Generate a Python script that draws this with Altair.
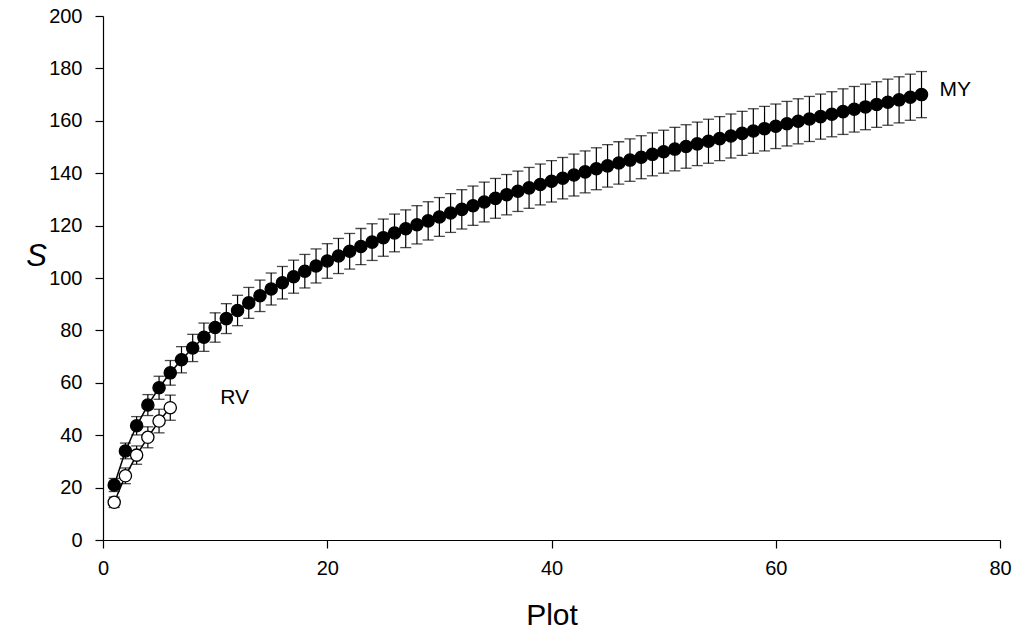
import altair as alt
import pandas as pd

# ---- data ----
my_plot = list(range(1, 74))
my_s = [21.0, 34.0, 43.6, 51.5, 58.1, 63.8, 68.8, 73.3, 77.4, 81.1,
        84.5, 87.6, 90.5, 93.2, 95.8, 98.2, 100.5, 102.6, 104.6, 106.5,
        108.4, 110.2, 112.0, 113.7, 115.4, 117.2, 118.8, 120.3, 121.8, 123.3,
        124.8, 126.2, 127.6, 129.0, 130.4, 131.8, 133.1, 134.4, 135.7, 136.9,
        138.1, 139.3, 140.5, 141.7, 142.8, 143.9, 145.0, 146.1, 147.2, 148.2,
        149.2, 150.2, 151.2, 152.2, 153.2, 154.2, 155.2, 156.1, 157.0, 157.9,
        158.9, 159.8, 160.7, 161.6, 162.5, 163.5, 164.4, 165.3, 166.2, 167.1,
        168.0, 169.0, 170.0]
my_err = [2.5, 3.0, 3.5, 4.0, 4.4, 4.7, 5.0, 5.2, 5.4, 5.6,
          5.7, 5.8, 5.9, 6.0, 6.1, 6.2, 6.3, 6.4, 6.5, 6.6,
          6.7, 6.8, 6.9, 7.0, 7.1, 7.2, 7.2, 7.3, 7.3, 7.4,
          7.4, 7.5, 7.5, 7.6, 7.6, 7.7, 7.7, 7.8, 7.8, 7.9,
          7.9, 8.0, 8.0, 8.0, 8.1, 8.1, 8.1, 8.2, 8.2, 8.2,
          8.3, 8.3, 8.3, 8.4, 8.4, 8.4, 8.4, 8.5, 8.5, 8.5,
          8.5, 8.6, 8.6, 8.6, 8.6, 8.7, 8.7, 8.7, 8.7, 8.8,
          8.8, 8.8, 8.8]

rv_plot = [1, 2, 3, 4, 5, 6]
rv_s = [14.4, 24.5, 32.4, 39.2, 45.4, 50.5]
rv_err = [2.0, 3.0, 3.5, 4.0, 4.5, 4.8]

x_ticks = [0, 20, 40, 60, 80]
y_ticks = [0, 20, 40, 60, 80, 100, 120, 140, 160, 180, 200]

rows = []
for p, s, e in zip(my_plot, my_s, my_err):
    rows.append({"series": "MY", "plot": p, "S": s, "lo": s - e, "hi": s + e})
for p, s, e in zip(rv_plot, rv_s, rv_err):
    rows.append({"series": "RV", "plot": p, "S": s, "lo": s - e, "hi": s + e})
df = pd.DataFrame(rows)

FONT = "Liberation Sans"

xscale = alt.Scale(domain=[0, 80], nice=False)
yscale = alt.Scale(domain=[0, 200], nice=False)

x_enc = alt.X("plot:Q", scale=xscale,
              axis=alt.Axis(values=x_ticks, title="Plot", titleFontSize=30,
                            titleFontWeight="normal", titlePadding=22,
                            labelFlush=False, labelPadding=10))
y_enc = alt.Y("S:Q", scale=yscale,
              axis=alt.Axis(values=y_ticks, title="S", titleFontSize=31,
                            titleFontStyle="italic", titleFontWeight="normal",
                            titleAngle=0, titleAlign="center", titleBaseline="middle",
                            titleX=-67, titleY=240, labelFlush=False, labelPadding=13))

base = alt.Chart(df)

rules = base.mark_rule(color="black", strokeWidth=1.2).encode(
    x=alt.X("plot:Q", scale=xscale), y=alt.Y("lo:Q", scale=yscale), y2="hi:Q")
cap_lo = base.mark_tick(orient="horizontal", size=11, thickness=1.3, color="black").encode(
    x=alt.X("plot:Q", scale=xscale), y=alt.Y("lo:Q", scale=yscale))
cap_hi = base.mark_tick(orient="horizontal", size=11, thickness=1.3, color="black").encode(
    x=alt.X("plot:Q", scale=xscale), y=alt.Y("hi:Q", scale=yscale))

lines = base.mark_line(color="black", strokeWidth=1.5).encode(
    x=x_enc, y=y_enc, detail="series:N")

points = base.mark_point(shape="circle", filled=False, size=150, stroke="black",
                         strokeWidth=1.3, opacity=1).encode(
    x=alt.X("plot:Q", scale=xscale), y=alt.Y("S:Q", scale=yscale),
    fill=alt.Fill("series:N", scale=alt.Scale(domain=["MY", "RV"], range=["black", "white"]),
                  legend=None))

last = df.groupby("series", as_index=False).last()
lab_my = alt.Chart(last[last.series == "MY"]).mark_text(
    align="left", baseline="middle", dx=18, dy=-5, fontSize=21, font=FONT, color="black").encode(
    x=alt.X("plot:Q", scale=xscale), y=alt.Y("S:Q", scale=yscale), text="series:N")
lab_rv = alt.Chart(last[last.series == "RV"]).mark_text(
    align="left", baseline="middle", dx=50, dy=-10, fontSize=21, font=FONT, color="black").encode(
    x=alt.X("plot:Q", scale=xscale), y=alt.Y("S:Q", scale=yscale), text="series:N")

chart = alt.layer(lines, rules, cap_lo, cap_hi, points, lab_my, lab_rv).properties(
    width=897, height=524,
    autosize=alt.AutoSizeParams(type="none"),
    padding={"left": 103, "top": 16, "right": 17, "bottom": 90},
    background="white",
).configure_view(stroke=None).configure_axis(
    grid=False, domainColor="black", domainWidth=1.2, tickColor="black", tickWidth=1.2,
    tickSize=8, labelFont=FONT, labelFontSize=20, labelColor="black",
    titleFont=FONT, titleColor="black",
)

chart.save("out.html", embed_options={"renderer": "svg", "actions": False})
